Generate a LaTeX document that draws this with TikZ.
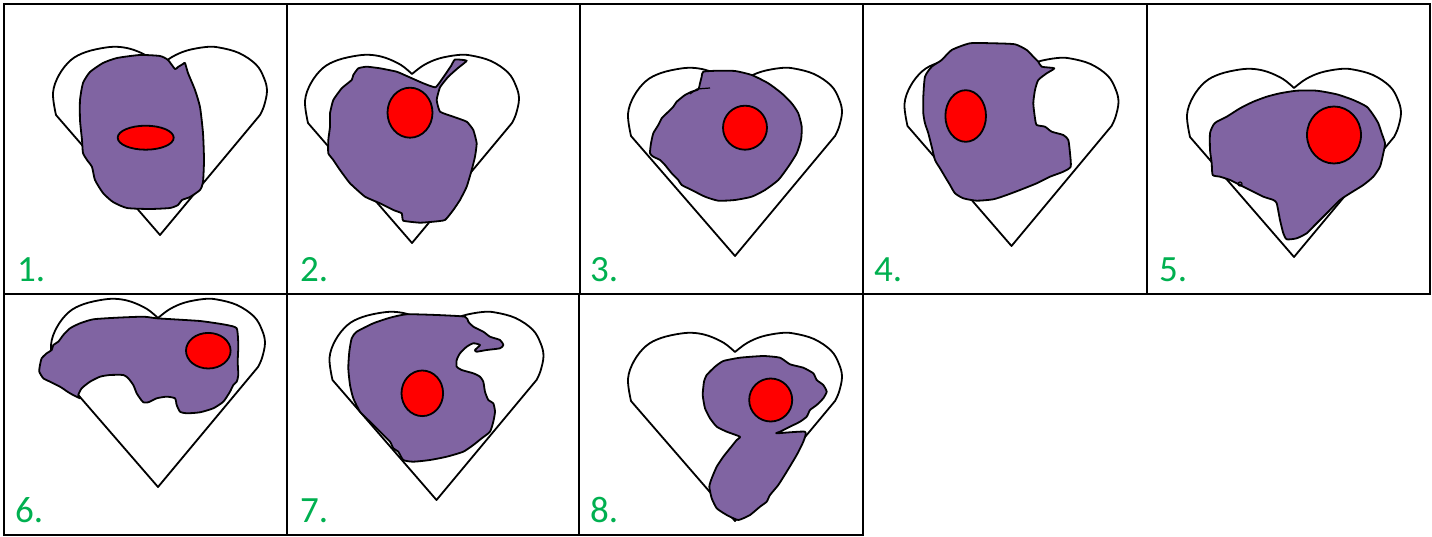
\documentclass[tikz,border=0pt]{standalone}
\usepackage{fontspec}
\setmainfont{Carlito}
\definecolor{blobpurple}{HTML}{8064A2}
\definecolor{spotred}{HTML}{FF0000}
\definecolor{labgreen}{HTML}{00B050}
\begin{document}
\begin{tikzpicture}[x=1pt,y=-1pt,
  gridline/.style={line width=2.2pt,black},
  heartline/.style={line width=1.8pt,black,line join=round},
  blob/.style={fill=blobpurple,draw=black,line width=1.8pt,line join=round},
  spot/.style={fill=spotred,draw=black,line width=1.8pt},
  lab/.style={text=labgreen,font=\fontsize{37}{40}\selectfont,inner sep=0pt,anchor=base west},
  heartpic/.pic={
    \draw[heartline] (0,188)
      -- plot[smooth,tension=0.6] coordinates {(-104,68) (-107,46) (-101,28) (-89,13) (-74,5) (-54,0.5) (-40,0) (-26,3) (-11,10) (0,19)}
      -- plot[smooth,tension=0.6] coordinates {(0,19) (12,10) (27,3.5) (46,0) (59,0.5) (79,6) (96,17.5) (104,31) (107,44) (104,59) (100,68)}
      -- cycle;
  }]
\useasboundingbox (0,0) rectangle (1432,537);
\fill[white] (0,0) rectangle (1432,537);

% panel grid
\draw[gridline] (4,4) rectangle (1430,294);
\draw[gridline] (4,294) rectangle (863,535);
\foreach \gx in {287,580,863,1147} \draw[gridline] (\gx,4) -- (\gx,294);
\foreach \gx in {287,579} \draw[gridline] (\gx,294) -- (\gx,535);

% heart outlines
\pic at (160,47) {heartpic};
\pic at (412,55) {heartpic};
\pic at (735,68) {heartpic};
\pic at (1011.5,58) {heartpic};
\pic at (1294,69) {heartpic};
\pic at (158,299) {heartpic};
\pic at (436.5,312) {heartpic};
\pic at (735,333) {heartpic};

% panel 1
\filldraw[blob] plot[smooth cycle,tension=0.35] coordinates {
 (80,100) (83,83) (90,72) (103,63) (117,58) (140,55) (160,56) (168,60) (175,69) (178,67) (183,64) (185,63)
 (188,73) (195,90) (200,107) (203,133) (204,160) (203,182) (200,190) (190,197) (182,200) (178,205)
 (170,208) (150,209) (127,208) (113,202) (103,193) (95,180) (92,167) (87,160) (83,153) (82,140) (80,120)};
\filldraw[spot] (145.7,137.7) ellipse [x radius=28, y radius=12];

% panel 2: main blob with a thin wedge reaching up to the right lobe
\filldraw[blob] plot[smooth cycle,tension=0.25] coordinates {
 (358.3,68.3) (366.7,66.7) (380,68.3) (396.7,71.7) (408.3,76.7) (423.3,83.3) (435.5,87.3)
 (443.3,77.3) (451,66) (455,59.5) (466.7,60.7) (458,68) (448.3,76.7) (440,87.3)
 (436.7,100) (440,111.7) (453.3,116.7) (466.7,121.7) (473.3,130) (476.7,143.3) (475,156.7)
 (471.7,170) (466.7,186.7) (460,200) (453.3,210) (445,220) (433.3,221.7) (420,222.7) (403.3,220.7)
 (401.7,213.3) (393.3,210) (380,203.3) (365,196.7) (350,183.3) (340,170) (333.3,160) (328.3,153.3)
 (328.3,140) (330,126.7) (330,113.3) (333.3,100) (341.7,88.3) (351.7,80) (353.3,75)};
\filldraw[spot] (410,112.7) ellipse [x radius=22.5, y radius=25];

% panel 3
\filldraw[blob] plot[smooth cycle,tension=0.35] coordinates {
 (703.3,71.7) (718.3,70.7) (735,71) (751.7,75) (768.3,83.3) (781.7,93.3) (791.7,103.3) (798.3,113.3)
 (801.7,126.7) (801,140) (796.7,153.3) (788.3,166.7) (778.3,180) (765,190) (751.7,196.7) (735,200)
 (718.3,200.7) (705,196.7) (691.7,190) (681.7,185) (678.3,180) (671.7,173.3) (665,165) (660,160)
 (653.3,156.7) (650,153.3) (651,143.3) (653.3,133.3) (658.3,125) (661.7,118.3) (666.7,113.3)
 (673.3,106.7) (676.7,101.7) (685,95) (691.7,91.7) (698.3,89.3) (700,83.3) (701.7,76.7)};
\draw[line width=1.2pt] (690,94) -- (697,89) -- (710,88);
\filldraw[spot] (745,127.7) circle [radius=22];

% panel 4
\filldraw[blob] plot[smooth cycle,tension=0.35] coordinates {
 (951.7,50) (970,43.3) (993.3,43.3) (1015,44.3) (1026.7,50) (1033.3,56.7) (1038.3,61.7) (1041.7,66.7)
 (1054.3,68.3) (1046.7,73.3) (1038.3,80) (1035,90) (1033.3,103.3) (1035,118.3) (1036.7,125)
 (1045,126.7) (1051.7,131.7) (1063.3,135) (1068.3,140) (1070,153.3) (1070.7,166.7) (1063.3,171.7)
 (1050,176.7) (1036.7,183.3) (1020,190) (1006.7,195) (993.3,199.3) (976.7,200.7) (963.3,198.3)
 (955,193.3) (950,185) (945,176.7) (940,168.3) (935,160) (931.7,146.7) (928.3,133.3) (925,123.3)
 (923.3,113.3) (923.3,96.7) (925,76.7) (931.7,66.7) (941.7,60)};
\filldraw[spot] (965.7,116) ellipse [x radius=20.3, y radius=25.8];

% panel 5
\filldraw[blob] plot[smooth cycle,tension=0.35] coordinates {
 (1216.7,121.7) (1226.7,116.7) (1240,108.3) (1253.3,101.7) (1266.7,96.7) (1280,93.3) (1296.7,90.7)
 (1316.7,90.7) (1336.7,94.3) (1353.3,100) (1366.7,106.7) (1373.3,115) (1378.3,123.3) (1381.7,133.3)
 (1385,143.3) (1383.3,153.3) (1380,166.7) (1373.3,176.7) (1363.3,185) (1350,193.3) (1340,200)
 (1326.7,213.3) (1313.3,226.7) (1306.7,233.3) (1296.7,238.3) (1286.7,239.3) (1283.3,233.3)
 (1280,220) (1276.7,203.3) (1273.3,200) (1263.3,196.7) (1253.3,191.7) (1243.3,186.7) (1230,180)
 (1220,176.7) (1212.7,175) (1211.7,163.3) (1210,150) (1210,133.3) (1213.3,125)};
\draw[line width=1.2pt] (1240,184) circle [radius=2];
\filldraw[spot] (1334,135) ellipse [x radius=27, y radius=28.5];

% panel 6
\filldraw[blob] plot[smooth cycle,tension=0.35] coordinates {
 (40,365) (41.7,358.3) (46.7,353.3) (51.7,350) (53.3,345) (58.3,341.7) (63.3,335) (70,328.3)
 (80,323.3) (93.3,319.3) (116.7,317.7) (143.3,316.7) (156.7,318.3) (173.3,319.3) (200,321)
 (216.7,323.3) (226.7,325) (236.7,328.3) (238.3,345) (237.7,361.7) (238.3,375) (236.7,381.7)
 (233.3,385) (230,391.7) (223.3,401.7) (213.3,408.3) (200,412.3) (186.7,413.3) (180,411.7)
 (176.7,405) (175,398.3) (166.7,396.7) (156.7,398.3) (148.3,402.3) (143.3,402.3) (140,398.3)
 (136.7,393.3) (133.3,385) (128.3,378.3) (123.3,375) (110,375) (100,376.7) (90,381.7) (81.7,388.3)
 (78.3,395) (80,398.3) (70,393.3) (60,386.7) (50,381.7) (43.3,378.3) (39.3,371.7)};
\filldraw[spot] (208.3,350.7) ellipse [x radius=22.3, y radius=17.8];

% panel 7
\filldraw[blob] plot[smooth cycle,tension=0.35] coordinates {
 (356.7,331.7) (373.3,323.3) (390,317.7) (406.7,314.3) (436.7,315) (465,316.7) (468.3,321.7)
 (473.3,326.7) (483.3,331.7) (490,336.7) (500,340) (503.3,345) (500,348.3) (486.7,350) (476.7,351.7)
 (475,350) (480,345) (473.3,343.3) (466.7,346.7) (460,353.3) (456.7,360) (456.7,366.7) (461.7,370)
 (473.3,373.3) (480,376.7) (483.3,381.7) (485,391.7) (488.3,400) (493.3,403.3) (495,411.7)
 (493.3,421.7) (490,431.7) (481.7,438.3) (473.3,445) (463.3,451.7) (446.7,456.7) (430,460)
 (413.3,461.7) (403.3,460) (398.3,451.7) (393.3,448.3) (390,441.7) (380,431.7) (370,421.7)
 (360,411.7) (353.3,398.3) (350,385) (348.3,368.3) (349.3,351.7) (351.7,338.3)};
\filldraw[spot] (422.3,393.3) ellipse [x radius=20.8, y radius=22.8];

% panel 8
\filldraw[blob] plot[smooth cycle,tension=0.3] coordinates {
 (723.3,361) (740,357.7) (763.3,356) (780,357.7) (790,364.3) (803.3,367.7) (813.3,373.3) (816.7,380)
 (823.3,385) (826.7,391.7) (823.3,398.3) (816.7,405) (810,410) (806.7,416.7) (800,421.7) (790,426.7)
 (780,431.7) (776.7,433.3) (805,431.7) (803.3,441.7) (796.7,455) (786.7,471.7) (778.3,485) (770,495)
 (766.7,501.7) (760,506.7) (750,515) (738.3,520) (726.7,515) (716.7,508.3) (711.7,498.3) (709.3,486.7)
 (711.7,478.3) (716.7,466.7) (723.3,456.7) (730,448.3) (736.7,440) (740,436.7) (726.7,431.7)
 (716.7,426.7) (710,418.3) (705,408.3) (702.7,395) (704,381.7) (706.7,375) (715,366.7)};
\filldraw[spot] (770.7,400) circle [radius=21.5];

% panel numbers
\node[lab] (n1) at (17,282) {1.};
\node[lab] (n2) at (300,282) {2.};
\node[lab] (n3) at (590,282) {3.};
\node[lab] (n4) at (874,282) {4.};
\node[lab] (n5) at (1159,282) {5.};
\node[lab] (n6) at (15,522) {6.};
\node[lab] (n7) at (300,522) {7.};
\node[lab] (n8) at (590,522) {8.};
\end{tikzpicture}
\end{document}
